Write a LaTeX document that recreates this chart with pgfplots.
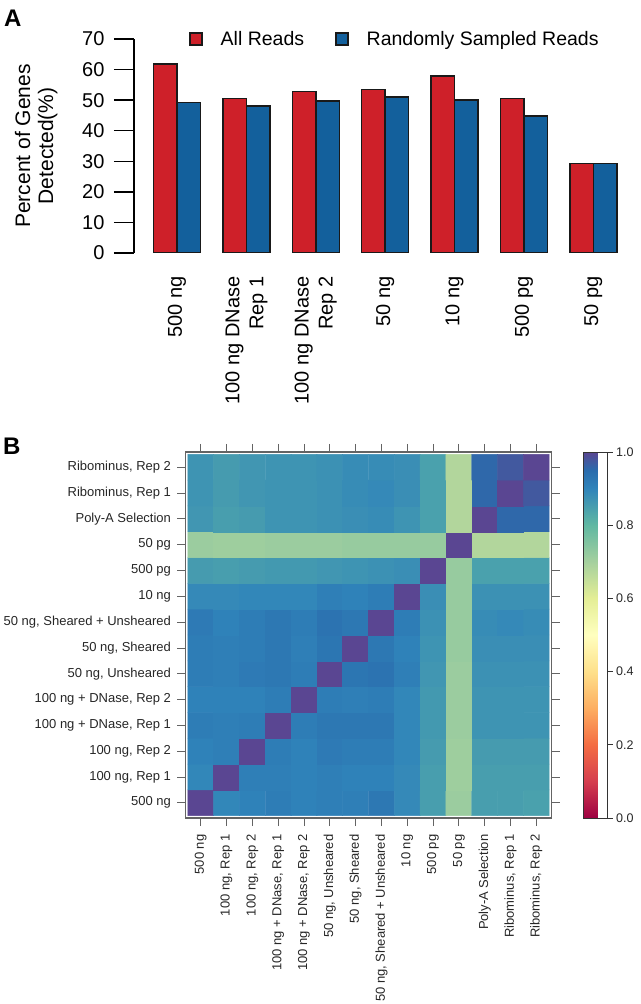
\documentclass[border=0pt]{standalone}
\usepackage{fontspec}
\setmainfont{Liberation Sans}
\usepackage{pgfplots}
\pgfplotsset{compat=1.18}
\definecolor{redbar}{RGB}{206,32,41}
\definecolor{bluebar}{RGB}{19,96,156}
\definecolor{framegray}{RGB}{100,100,100}
\pgfplotsset{/pgf/number format/assume math mode=true}
\begin{document}
\begin{tikzpicture}[x=1pt,y=1pt]
\useasboundingbox (0,0) rectangle (640,1004);
\node[anchor=north west, inner sep=0pt, font=\fontsize{24}{24}\selectfont\bfseries] at (4pt,994pt) {A};
\node[anchor=north west, inner sep=0pt, font=\fontsize{24}{24}\selectfont\bfseries] at (3pt,566pt) {B};

\begin{axis}[
  at={(134pt,751pt)}, anchor=south west, scale only axis,
  width=487pt, height=214pt,
  xmin=-0.62, xmax=6.4, ymin=0, ymax=70,
  ybar=0pt, bar width=23.5pt,
  axis y line*=left, axis x line*=bottom,
  x axis line style={draw=none},
  y axis line style={line width=1.5pt, black},
  xtick={0,1,2,3,4,5,6},
  xticklabels={{500 ng},{100 ng DNase\\Rep 1},{100 ng DNase\\Rep 2},{50 ng},{10 ng},{500 pg},{50 pg}},
  major x tick style={draw=none},
  ytick={0,10,...,70},
  tick align=outside, major tick length=20pt,
  major y tick style={line width=1.5pt, black},
  tick label style={font=\fontsize{20}{24}\selectfont},
  yticklabel shift=6pt,
  xticklabel style={rotate=90, anchor=east, align=right},
  ylabel={Percent of Genes\\Detected(\%)},
  ylabel style={align=center, at={(axis description cs:-0.201,0.5)}, anchor=center, font=\fontsize{21}{23}\selectfont},
  legend style={draw=none, fill=none, at={(axis description cs:0.113,1.0)}, anchor=west, legend columns=2, font=\fontsize{19.5}{24}\selectfont, inner sep=0pt,
    /tikz/every odd column/.append style={column sep=16pt},
    /tikz/every even column/.append style={column sep=29pt}},
  legend image code/.code={\fill[#1] (0pt,-6pt) rectangle (12pt,6pt);},
]
\addplot[fill=redbar, draw=black!90, line width=1.5pt] coordinates {(0,61.8) (1,50.6) (2,52.9) (3,53.4) (4,57.9) (5,50.6) (6,29.2)};
\addplot[fill=bluebar, draw=black!90, line width=1.5pt] coordinates {(0,49.3) (1,48.1) (2,49.7) (3,51.0) (4,50.0) (5,44.8) (6,29.2)};
\addlegendentry{All Reads}
\addlegendentry{Randomly Sampled Reads}
\end{axis}

\begin{axis}[
  at={(185.5pt,186pt)}, anchor=south west, scale only axis,
  width=366pt, height=366pt,
  xmin=0.41, xmax=14.59, ymin=0.41, ymax=14.59,
  xtick={1,...,14}, ytick={1,...,14},
  xticklabels={{500 ng},{100 ng, Rep 1},{100 ng, Rep 2},{100 ng + DNase, Rep 1},{100 ng + DNase, Rep 2},{50 ng, Unsheared},{50 ng, Sheared},{50 ng, Sheared + Unsheared},{10 ng},{500 pg},{50 pg},{Poly-A Selection},{Ribominus, Rep 1},{Ribominus, Rep 2}},
  yticklabels={{500 ng},{100 ng, Rep 1},{100 ng, Rep 2},{100 ng + DNase, Rep 1},{100 ng + DNase, Rep 2},{50 ng, Unsheared},{50 ng, Sheared},{50 ng, Sheared + Unsheared},{10 ng},{500 pg},{50 pg},{Poly-A Selection},{Ribominus, Rep 1},{Ribominus, Rep 2}},
  tick align=outside, tick pos=both, major tick length=8pt,
  axis line style={framegray, line width=1.2pt},
  major tick style={framegray, line width=0.8pt},
  tick label style={font=\fontsize{13}{15}\selectfont, text=black!85},
  xticklabel style={rotate=90, anchor=east},
  xticklabel shift=5pt, yticklabel shift=3pt,
  colormap={spectral}{rgb255(0cm)=(158,1,66) rgb255(10cm)=(213,62,79) rgb255(20cm)=(244,109,67) rgb255(30cm)=(253,174,97) rgb255(40cm)=(254,224,139) rgb255(50cm)=(255,255,191) rgb255(60cm)=(228,238,150) rgb255(70cm)=(165,208,158) rgb255(80cm)=(96,184,162) rgb255(90cm)=(48,132,186) rgb255(95cm)=(42,108,173) rgb255(100cm)=(90,70,146)},
  point meta min=0, point meta max=1,
  colorbar,
  colorbar style={at={(parent axis.north east)}, anchor=north west, xshift=23.5pt,
    width=24pt, height=366pt, scale only axis,
    ytick={0,0.2,0.4,0.6,0.8,1},
    yticklabel={\pgfmathprintnumber[fixed,fixed zerofill,precision=1]{\tick}},
    ytick pos=right, yticklabel pos=right, tick align=outside, major tick length=5pt,
    axis line style={black!80, line width=0.8pt},
    major tick style={black!80, line width=0.8pt},
    yticklabel style={font=\fontsize{12.5}{15}\selectfont, text=black!85}},
]
\addplot[matrix plot*, point meta=explicit, mesh/cols=14, mesh/rows=14] table[x=x, y=y, meta=z] {
x y z
1 1 1
2 1 .895
3 1 .905
4 1 .915
5 1 .905
6 1 .91
7 1 .91
8 1 .925
9 1 .89
10 1 .85
11 1 .715
12 1 .85
13 1 .85
14 1 .845
1 2 .895
2 2 1
3 2 .91
4 2 .91
5 2 .905
6 2 .91
7 2 .905
8 2 .905
9 2 .89
10 2 .85
11 2 .71
12 2 .85
13 2 .85
14 2 .85
1 3 .905
2 3 .91
3 3 1
4 3 .915
5 3 .905
6 3 .92
7 3 .915
8 3 .915
9 3 .895
10 3 .855
11 3 .71
12 3 .855
13 3 .855
14 3 .855
1 4 .915
2 4 .91
3 4 .915
4 4 1
5 4 .915
6 4 .925
7 4 .925
8 4 .925
9 4 .895
10 4 .86
11 4 .715
12 4 .87
13 4 .87
14 4 .87
1 5 .905
2 5 .905
3 5 .905
4 5 .915
5 5 1
6 5 .915
7 5 .91
8 5 .915
9 5 .895
10 5 .86
11 5 .715
12 5 .87
13 5 .87
14 5 .87
1 6 .915
2 6 .91
3 6 .92
4 6 .925
5 6 .915
6 6 1
7 6 .93
8 6 .935
9 6 .91
10 6 .865
11 6 .715
12 6 .875
13 6 .875
14 6 .875
1 7 .915
2 7 .91
3 7 .915
4 7 .925
5 7 .91
6 7 .93
7 7 1
8 7 .925
9 7 .905
10 7 .87
11 7 .72
12 7 .88
13 7 .88
14 7 .88
1 8 .92
2 8 .905
3 8 .915
4 8 .925
5 8 .915
6 8 .935
7 8 .925
8 8 1
9 8 .915
10 8 .875
11 8 .72
12 8 .885
13 8 .89
14 8 .885
1 9 .89
2 9 .89
3 9 .895
4 9 .895
5 9 .895
6 9 .91
7 9 .905
8 9 .915
9 9 1
10 9 .88
11 9 .72
12 9 .875
13 9 .875
14 9 .875
1 10 .855
2 10 .85
3 10 .855
4 10 .86
5 10 .86
6 10 .865
7 10 .87
8 10 .875
9 10 .88
10 10 1
11 10 .72
12 10 .845
13 10 .845
14 10 .845
1 11 .715
2 11 .71
3 11 .71
4 11 .715
5 11 .715
6 11 .715
7 11 .72
8 11 .72
9 11 .72
10 11 .72
11 11 1
12 11 .68
13 11 .68
14 11 .68
1 12 .865
2 12 .85
3 12 .855
4 12 .87
5 12 .87
6 12 .875
7 12 .88
8 12 .885
9 12 .87
10 12 .845
11 12 .68
12 12 1
13 12 .955
14 12 .955
1 13 .87
2 13 .855
3 13 .865
4 13 .87
5 13 .87
6 13 .875
7 13 .885
8 13 .89
9 13 .88
10 13 .845
11 13 .68
12 13 .955
13 13 1
14 13 .975
1 14 .87
2 14 .855
3 14 .865
4 14 .87
5 14 .87
6 14 .875
7 14 .885
8 14 .885
9 14 .88
10 14 .845
11 14 .68
12 14 .955
13 14 .975
14 14 1
};
\end{axis}
\end{tikzpicture}
\end{document}
